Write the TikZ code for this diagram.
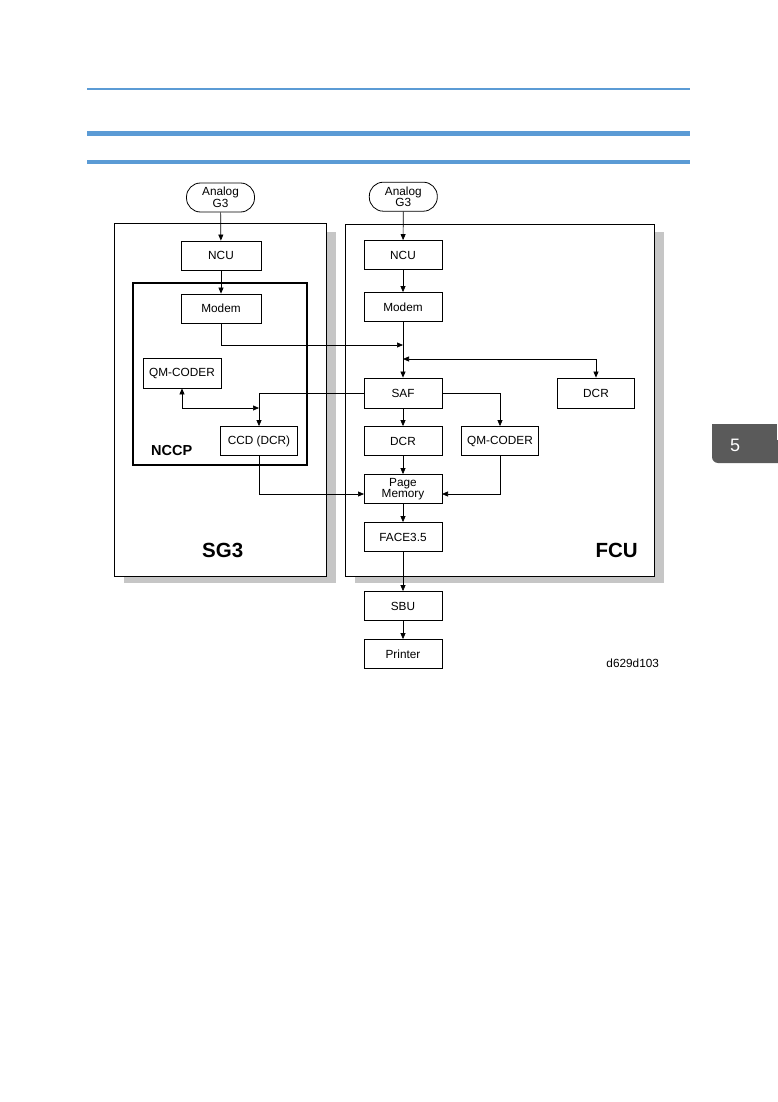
\documentclass[tikz,border=0pt]{standalone}
\usepackage{fontspec}
\setmainfont{Liberation Sans}
\usetikzlibrary{arrows.meta}
\definecolor{hblue}{HTML}{5B9BD5}
\definecolor{shadowgray}{HTML}{C6C6C6}
\definecolor{tabgray}{HTML}{5A5A5A}
\begin{document}
\begin{tikzpicture}[x=1pt,y=-1pt,
  box/.style={draw, line width=0.8pt, minimum width=78pt, minimum height=29pt, inner sep=0pt,
    font=\fontsize{11.8}{11.5}\selectfont, fill=white, align=center},
  term/.style={box, rounded corners=14pt, minimum width=68pt},
  arr/.style={-{Triangle[length=6pt,width=5pt]}, line width=0.7pt},
  dbl/.style={{Triangle[length=6pt,width=5pt]}-{Triangle[length=6pt,width=5pt]}, line width=0.7pt},
  outer/.style={draw, line width=0.8pt, fill=white},
  big/.style={font=\fontsize{20.5}{22}\selectfont\bfseries}
]
\useasboundingbox[fill=white] (0,0) rectangle (777,1102);

% header rules
\draw[hblue, line width=2pt] (87,89) -- (690,89);
\draw[hblue, line width=5pt] (87,134) -- (690,134);
\draw[hblue, line width=4pt] (87,162.5) -- (690,162.5);

% chapter tab
\fill[tabgray] (712,424) rectangle (777,450);
\fill[tabgray, rounded corners=6pt] (712,440) rectangle (795,463);
\node[text=white, font=\fontsize{18}{20}\selectfont] (tab) at (735,445) {5};

% outer frames with shadows
\fill[shadowgray] (124,232) rectangle (336,583);
\draw[outer] (114,223.5) rectangle (326,576);
\fill[shadowgray] (355,232) rectangle (664,583);
\draw[outer] (345,224) rectangle (654,576.5);

% NCCP frame
\draw[line width=2pt] (133.3,282.7) rectangle (307.3,465);

% nodes SG3 side
\node[term] (ag1) at (220.5,197.5) {Analog\\G3};
\node[box, minimum width=80pt] (ncu1) at (221,255.5) {NCU};
\node[box, minimum width=80pt] (modem1) at (221,308.5) {Modem};
\node[box, minimum height=30pt] (qm1) at (182,373) {QM-CODER};
\node[box, minimum width=77pt] (ccd) at (259,441) {CCD (DCR)};

% nodes FCU side
\node[term] (ag2) at (403.3,196.7) {Analog\\G3};
\node[box] (ncu2) at (403,255) {NCU};
\node[box] (modem2) at (403,307) {Modem};
\node[box, minimum height=30pt] (saf) at (403,393) {SAF};
\node[box, minimum width=77pt, minimum height=30pt] (dcrR) at (596,393) {DCR};
\node[box] (dcr2) at (403,441) {DCR};
\node[box, minimum width=77pt] (qm2) at (500,441) {QM-CODER};
\node[box] (page) at (403,489) {Page\\Memory};
\node[box] (face) at (403,537) {FACE3.5};
\node[box] (sbu) at (403,606) {SBU};
\node[box] (printer) at (403,654) {Printer};

% labels
\node[font=\fontsize{14.5}{16}\selectfont\bfseries] (nccp) at (171.7,450.7) {NCCP};
\node[big] (sg3) at (222.7,550.7) {SG3};
\node[big] (fcu) at (616.7,550.7) {FCU};
\node[font=\fontsize{11.8}{13}\selectfont] (code) at (632.7,663.3) {d629d103};

% junction coordinates
\coordinate (j1) at (403,345);
\coordinate (j2) at (403,359);
\coordinate (j3) at (259,408);
\coordinate (pmL) at (364,494);
\coordinate (pmR) at (442,494);

% connectors
\draw[arr] (ag1) -- (ncu1);
\draw[arr] (ncu1) -- (modem1);
\draw[arr] (modem1.south) |- (j1);
\draw[arr] (ag2) -- (ncu2);
\draw[arr] (ncu2) -- (modem2);
\draw[arr] (modem2) -- (saf);
\draw[dbl] (j2) -| (dcrR.north);
\draw[arr] (saf.west) -| (ccd.north);
\draw[dbl] (qm1.south) |- (j3);
\draw[arr] (ccd.south) |- (pmL);
\draw[arr] (saf.east) -| (qm2.north);
\draw[arr] (saf) -- (dcr2);
\draw[arr] (dcr2) -- (page);
\draw[arr] (qm2.south) |- (pmR);
\draw[arr] (page) -- (face);
\draw[arr] (face) -- (sbu);
\draw[arr] (sbu) -- (printer);
\end{tikzpicture}
\end{document}
